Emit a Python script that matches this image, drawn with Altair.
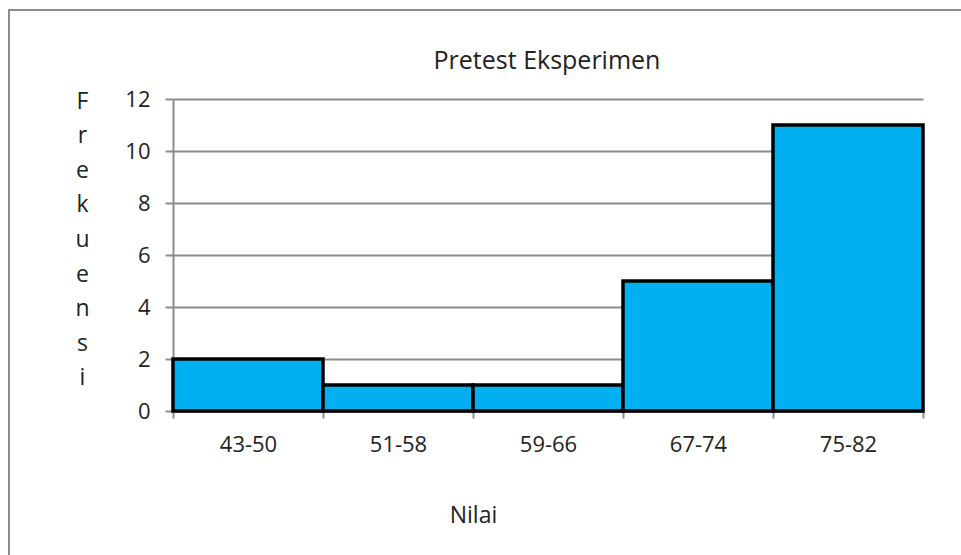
import altair as alt
import pandas as pd

# Score classes and frequency per class
classes = ["43-50", "51-58", "59-66", "67-74", "75-82"]
freq = [2, 1, 1, 5, 11]
y_ticks = [0, 2, 4, 6, 8, 10, 12]
y_title_letters = list("Frekuensi")
chart_title = "Pretest Eksperimen"

df = pd.DataFrame({"Nilai": classes, "Frekuensi": freq})

FONT = "Open Sans"
TEXT = "#222222"
GRID = "#8c8c8c"
PLOT_W, PLOT_H = 750, 312
PAD_L, PAD_T = 173, 99

bars = alt.Chart(df).mark_bar(
    color="#00B0F0", stroke="black", strokeWidth=3.5, strokeJoin="miter"
).encode(
    x=alt.X(
        "Nilai:N",
        sort=classes,
        scale=alt.Scale(paddingInner=0, paddingOuter=0),
        axis=alt.Axis(
            title="Nilai",
            labelAngle=0,
            tickBand="extent",
            tickSize=7,
            tickColor=GRID,
            tickWidth=2,
            domainColor=GRID,
            domainWidth=2,
            labelPadding=16,
            titlePadding=49,
            titleX=300,
            titleAlign="center",
            grid=False,
        ),
    ),
    y=alt.Y(
        "Frekuensi:Q",
        scale=alt.Scale(domain=[0, 12], nice=False),
        axis=alt.Axis(
            values=y_ticks,
            title=y_title_letters,
            titleAngle=0,
            titleLineHeight=34.6,
            titleBaseline="middle",
            titleAlign="center",
            titleX=-91,
            titleY=2,
            tickSize=8,
            tickColor=GRID,
            tickWidth=2,
            domainColor=GRID,
            domainWidth=2,
            gridColor=GRID,
            gridWidth=2,
            labelPadding=15,
        ),
    ),
)

# Chart title drawn as a text mark centred over the plot
title = alt.Chart(pd.DataFrame({"t": [chart_title]})).mark_text(
    font=FONT, fontSize=25, color=TEXT, baseline="middle", align="center"
).encode(
    text="t:N",
    x=alt.value(PLOT_W / 2 - 1),
    y=alt.value(61 - PAD_T),
)

# Outer frame around the whole chart
frame = alt.Chart(df).mark_rect(
    fill=None, stroke=GRID, strokeWidth=2, clip=False
).encode(
    x=alt.value(9 - PAD_L),
    x2=alt.value(961 - PAD_L + 20),
    y=alt.value(10 - PAD_T),
    y2=alt.value(555 - PAD_T + 20),
)

chart = (
    alt.layer(frame, bars, title)
    .properties(
        width=PLOT_W,
        height=PLOT_H,
        autosize=alt.AutoSizeParams(type="none"),
        padding={"left": PAD_L, "top": PAD_T, "right": 38, "bottom": 144},
        background="white",
    )
    .configure_view(stroke=None)
    .configure_axis(
        labelFont=FONT,
        titleFont=FONT,
        labelFontSize=22,
        titleFontSize=23,
        labelColor=TEXT,
        titleColor=TEXT,
        titleFontWeight="normal",
    )
)

chart.save("out.html", embed_options={"renderer": "svg", "actions": False})
